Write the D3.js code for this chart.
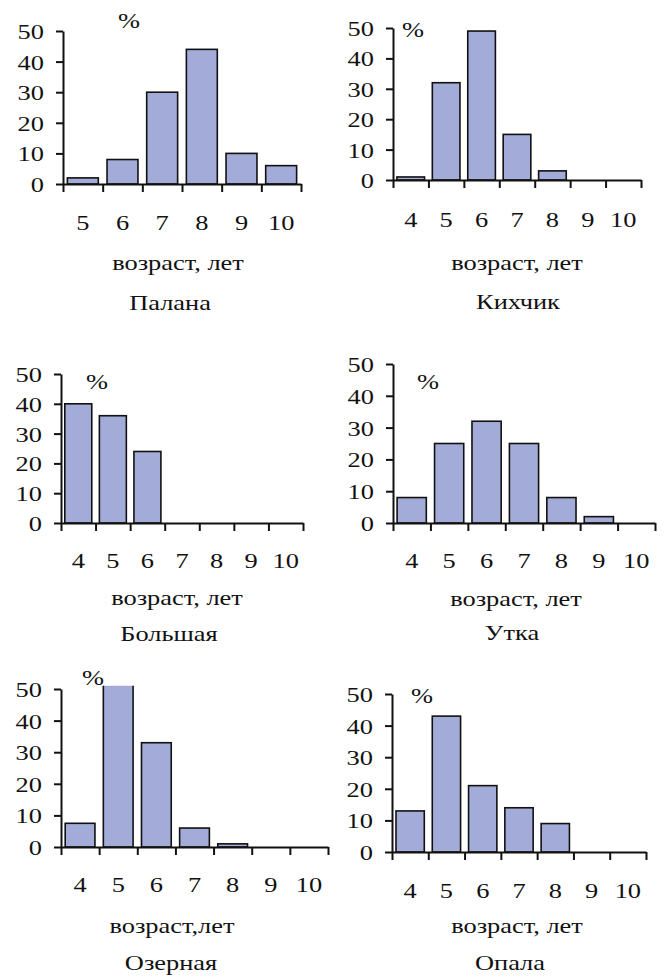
<!DOCTYPE html>
<html>
<head>
<meta charset="utf-8">
<script src="https://cdn.jsdelivr.net/npm/d3@7"></script>
<style>
  body { margin: 0; background: #fff; }
  svg text { font-family: "Liberation Serif", "Times New Roman", serif; fill: #111; }
</style>
</head>
<body>
<div id="chart"></div>
<script>
// ages (x categories)
const agesFrom5 = [5, 6, 7, 8, 9, 10];
const agesFrom4 = [4, 5, 6, 7, 8, 9, 10];
const yTicks = [0, 10, 20, 30, 40, 50];

// share of fish by age, %
const palana   = [2, 8, 30, 44, 10, 6];
const kikhchik = [1, 32, 49, 15, 3, 0, 0];
const bolshaya = [40, 36, 24, 0, 0, 0, 0];
const utka     = [8, 25, 32, 25, 8, 2, 0];
const ozernaya = [7.5, 53, 33, 6, 1, 0, 0];
const opala    = [13, 43, 21, 14, 9, 0, 0];

const titles = ["Палана", "Кихчик", "Большая", "Утка", "Озерная", "Опала"];
const xLabels = ["возраст, лет", "возраст, лет", "возраст, лет", "возраст, лет", "возраст,лет", "возраст, лет"];

// panel placement (pixels) - layout only
const layout = [
  { x0: 63,  x1: 301, y50: 31,  y0: 184, tickY: 230, xlabY: 270, titleY: 310, pctX: 129, pctY: 28 },
  { x0: 393, x1: 641, y50: 28,  y0: 180, tickY: 227, xlabY: 270, titleY: 309, pctX: 413, pctY: 37 },
  { x0: 61,  x1: 303, y50: 374, y0: 523, tickY: 568, xlabY: 605, titleY: 641, pctX: 97,  pctY: 389 },
  { x0: 393, x1: 655, y50: 364, y0: 523, tickY: 568, xlabY: 606, titleY: 640, pctX: 428, pctY: 389 },
  { x0: 61,  x1: 328, y50: 689, y0: 847, tickY: 892, xlabY: 933, titleY: 970, pctX: 93,  pctY: 685 },
  { x0: 392, x1: 646, y50: 694, y0: 852, tickY: 898, xlabY: 933, titleY: 970, pctX: 422, pctY: 703 }
];
const xCenters = [178, 517, 177, 516, 172, 517];
const titleCenters = [170, 518, 169, 512, 171, 510];

const panels = [
  { ages: agesFrom5, values: palana },
  { ages: agesFrom4, values: kikhchik },
  { ages: agesFrom4, values: bolshaya },
  { ages: agesFrom4, values: utka },
  { ages: agesFrom4, values: ozernaya },
  { ages: agesFrom4, values: opala }
];

const W = 667, H = 979;
const FONT = 22, STRETCH = 1.2;
const SERIF = '"Liberation Serif", "Times New Roman", serif';
const barColor = "#a3abd8";

const svg = d3.select("#chart").append("svg")
  .attr("width", W).attr("height", H);

function stretchText(sel, x, y, anchor) {
  return sel.attr("text-anchor", anchor)
    .attr("x", 0).attr("y", 0)
    .attr("transform", `translate(${x},${y}) scale(${STRETCH},1)`)
    .style("font-family", SERIF)
    .style("font-size", FONT + "px");
}

panels.forEach((p, i) => {
  const L = layout[i];
  const g = svg.append("g");

  const band = d3.scaleBand().domain(p.ages).range([L.x0, L.x1]).padding(0);
  const edges = d3.scaleLinear().domain([0, p.ages.length]).range([L.x0, L.x1]);
  const y = d3.scaleLinear().domain([0, 50]).range([L.y0, L.y50]);

  // plot area clip (bars above 50 are cut, like the original)
  const clipId = "clip" + i;
  svg.append("clipPath").attr("id", clipId)
    .append("rect")
    .attr("x", L.x0).attr("y", y(51))
    .attr("width", L.x1 - L.x0).attr("height", L.y0 - y(51));

  const bw = band.bandwidth();
  const data = p.ages.map((a, k) => ({ age: a, v: p.values[k] })).filter(d => d.v > 0);

  g.append("g").attr("clip-path", `url(#${clipId})`)
    .selectAll("rect")
    .data(data)
    .join("rect")
    .attr("x", d => band(d.age) + bw * 0.11)
    .attr("width", bw * 0.78)
    .attr("y", d => y(d.v))
    .attr("height", d => y(0) - y(d.v))
    .attr("fill", barColor)
    .attr("stroke", "#111")
    .attr("stroke-width", 1.6);

  // y axis
  const yAxis = g.append("g")
    .attr("transform", `translate(${L.x0},0)`)
    .call(d3.axisLeft(y).tickValues(yTicks).tickSize(7).tickSizeOuter(0))
    .attr("font-family", null).attr("font-size", null);
  yAxis.select(".domain").attr("stroke", "#111").attr("stroke-width", 2);
  yAxis.selectAll(".tick line").attr("stroke", "#111").attr("stroke-width", 2);
  yAxis.selectAll(".tick text")
    .each(function () {
      stretchText(d3.select(this), -19, 0, "end").attr("dy", "0.34em");
    });

  // x axis: tick marks at band edges
  const xAxis = g.append("g")
    .attr("transform", `translate(0,${L.y0})`)
    .call(d3.axisBottom(edges).tickValues(d3.range(p.ages.length + 1)).tickFormat("").tickSize(8).tickSizeOuter(0));
  xAxis.select(".domain").attr("stroke", "#111").attr("stroke-width", 2);
  xAxis.selectAll(".tick line").attr("stroke", "#111").attr("stroke-width", 2);

  // x tick labels centered in each band
  g.selectAll("text.age")
    .data(p.ages)
    .join("text")
    .attr("class", "age")
    .each(function (a) {
      stretchText(d3.select(this), band(a) + bw / 2, L.tickY, "middle");
    })
    .text(a => a);

  stretchText(g.append("text"), xCenters[i], L.xlabY, "middle").text(xLabels[i]);
  stretchText(g.append("text"), titleCenters[i], L.titleY, "middle").text(titles[i]);
  stretchText(g.append("text"), L.pctX, L.pctY, "middle").text("%");
});
</script>
</body>
</html>
